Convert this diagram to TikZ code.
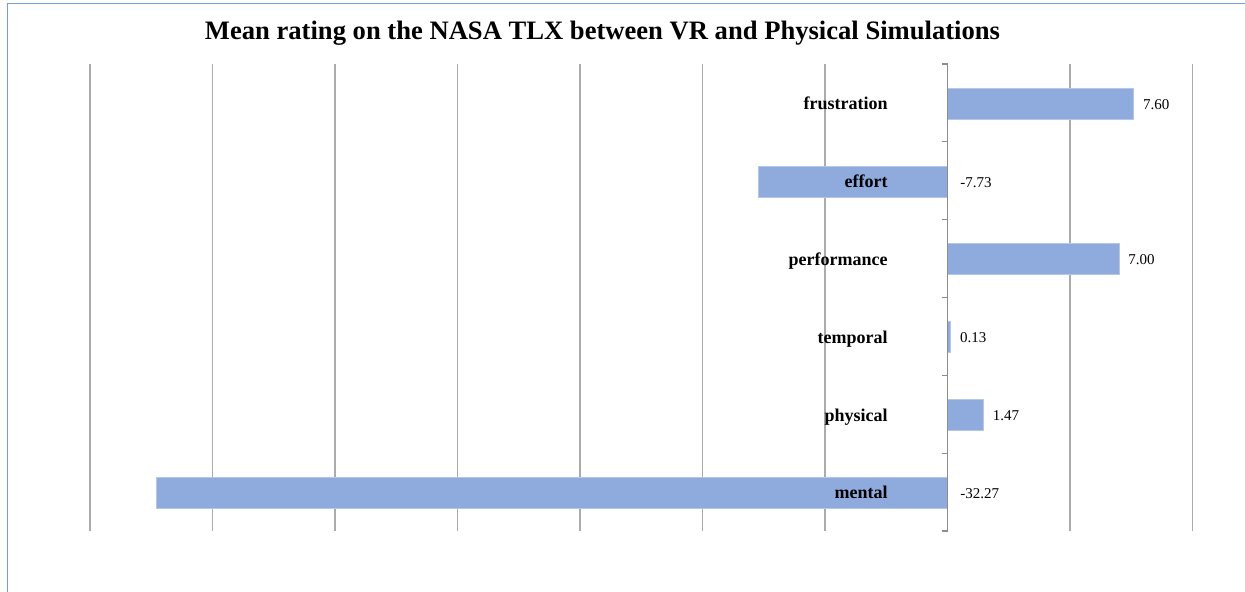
\documentclass[tikz,border=0pt]{standalone}
\usepackage{fontspec}
\setmainfont{Liberation Serif}
\definecolor{clBar}{HTML}{8FAADC}
\definecolor{clBarEdge}{HTML}{B4C7E7}
\definecolor{clGrid}{HTML}{ABABAB}
\definecolor{clAxis}{HTML}{8C8C8C}
\definecolor{clFrame}{HTML}{6FA0DA}
\tikzset{
  gridline/.style={draw=clGrid, line width=0.7pt},
  axisline/.style={draw=clAxis, line width=0.6pt},
  bar/.style={fill=clBar, draw=clBarEdge, line width=0.4pt},
  catlabel/.style={anchor=mid east, inner sep=0pt, font=\fontsize{9}{10}\selectfont\bfseries},
  vallabel/.style={anchor=mid west, inner sep=0pt, font=\fontsize{7.5}{9}\selectfont},
  charttitle/.style={inner sep=0pt, font=\fontsize{13.3}{15}\selectfont\bfseries},
}

\begin{document}
\begin{tikzpicture}[x=0.5pt, y=-0.5pt]
  \useasboundingbox (0,0) rectangle (1245,592);
  \draw[draw=clFrame, line width=0.9pt] (7.5,600) -- (7.5,3.5) -- (1250,3.5);
  \node[charttitle] (title) at (602.5,33) {Mean rating on the NASA TLX between VR and Physical Simulations};
  % gridlines every 5 units
  \foreach \k in {-7,...,-1,1,2}
    \draw[gridline] (947.5+122.5*\k,64) -- (947.5+122.5*\k,531);
  % bars, category names and values
  \foreach \val/\cat [count=\i from 0] in {7.60/frustration, -7.73/effort, 7.00/performance,
                                          0.13/temporal, 1.47/physical, -32.27/mental} {
    \pgfmathsetmacro{\yc}{64.8+77.83*(\i+0.5)}
    \pgfmathsetmacro{\xe}{947.5+24.5*\val}
    \pgfmathsetmacro{\xl}{\val<0 ? 960 : \xe+9}
    \draw[bar] (947.5,\yc-15.5) rectangle (\xe,\yc+15.5);
    \node[catlabel] (cat-\cat) at (888,\yc+1.5) {\cat};
    \node[vallabel] (val-\cat) at (\xl,\yc+1) {\val};
  }
  % axis with ticks
  \draw[axisline] (947.5,64) -- (947.5,531);
  \foreach \j in {0,...,6}
    \draw[axisline] (941.5,64+77.83*\j) -- (947.5,64+77.83*\j);
\end{tikzpicture}
\end{document}
